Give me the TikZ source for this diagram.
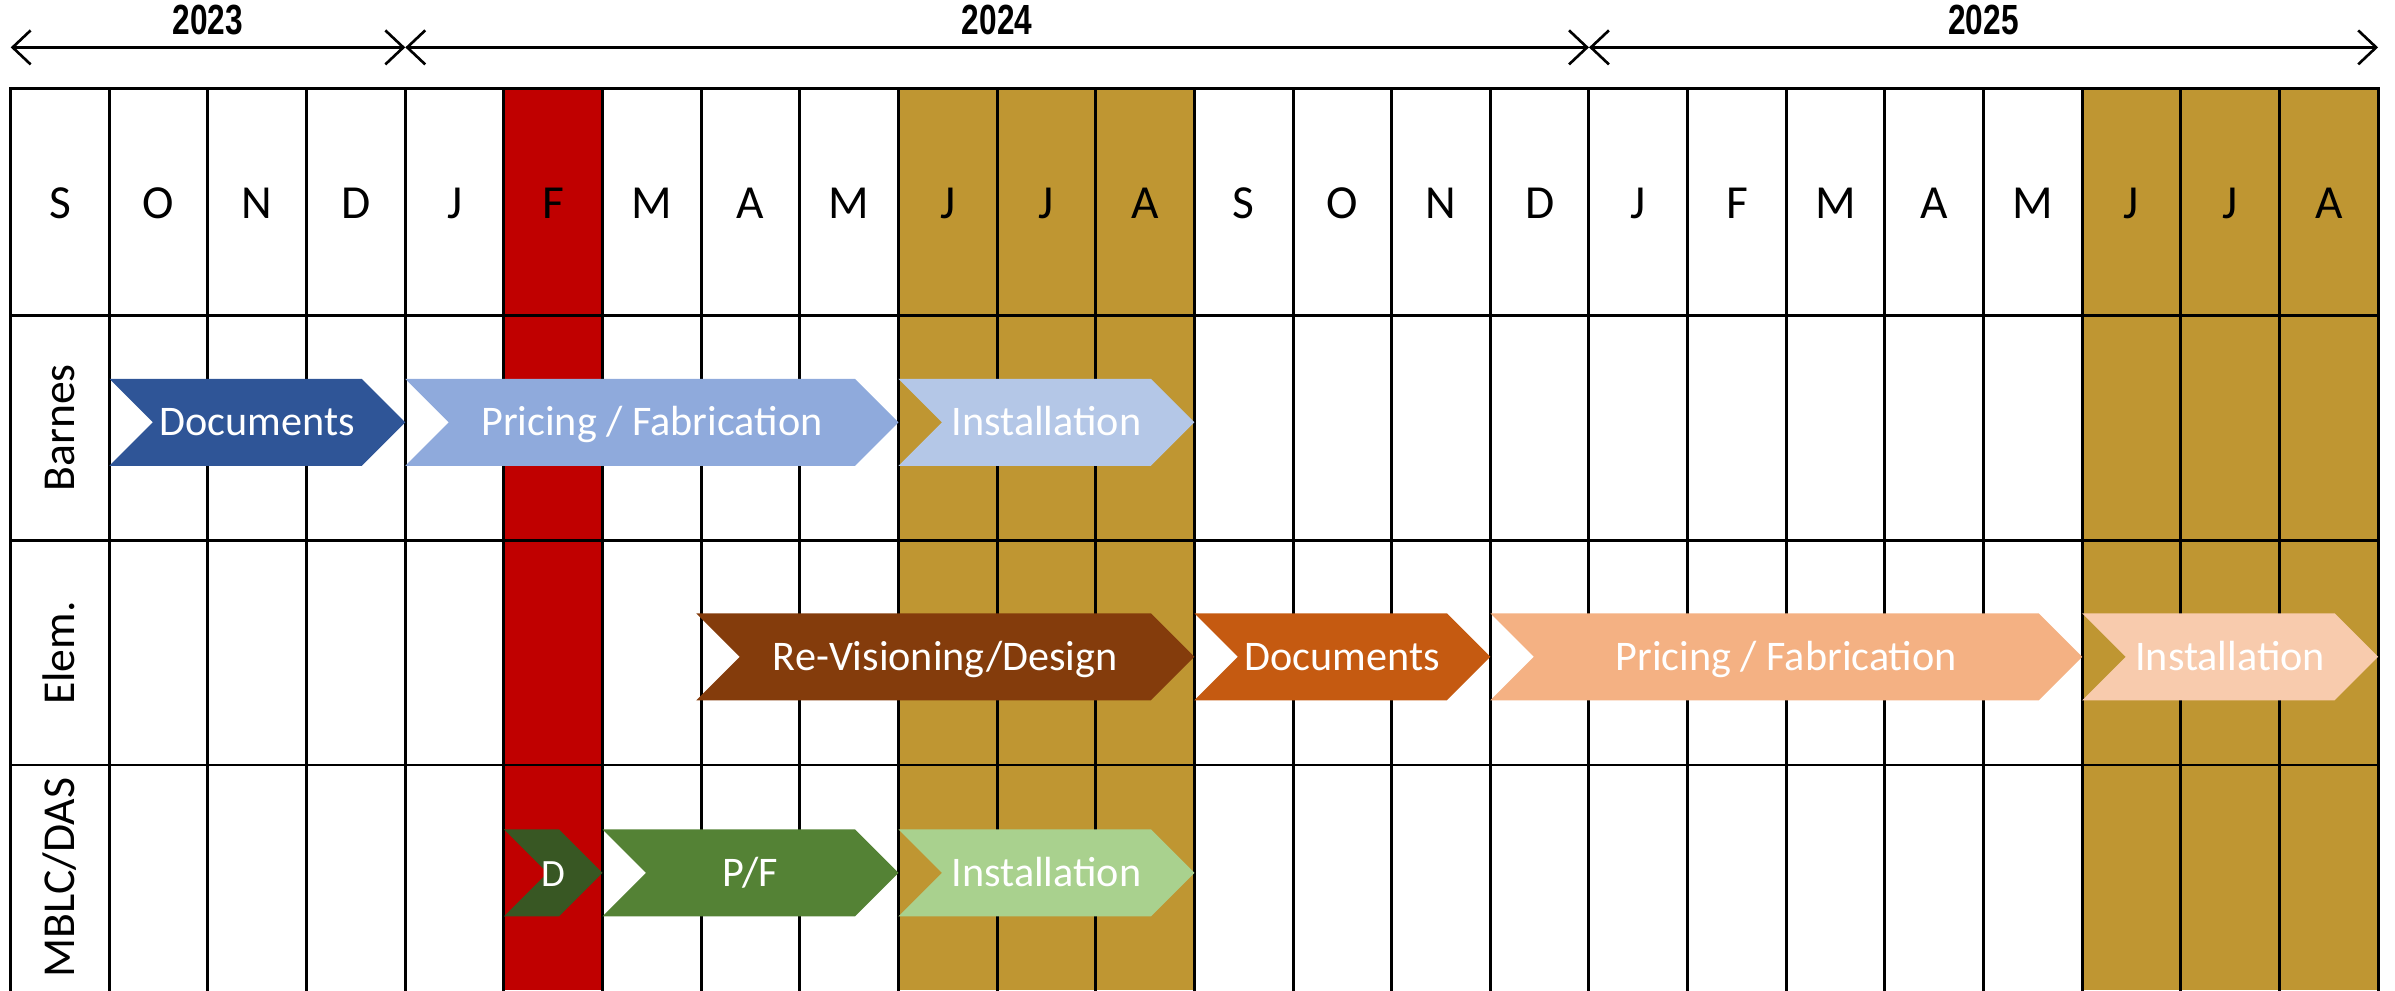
\documentclass[tikz,border=0pt]{standalone}
\usepackage{fontspec}
\setmainfont{Carlito}
\newfontfamily\yearfont[FakeStretch=0.75]{Liberation Sans}
\usetikzlibrary{arrows.meta, positioning}

\definecolor{febred}{RGB}{192,0,0}
\definecolor{summergold}{RGB}{191,150,50}
\definecolor{barnesdoc}{RGB}{47,85,151}
\definecolor{barnespf}{RGB}{143,170,220}
\definecolor{barnesinst}{RGB}{180,199,231}
\definecolor{elemrev}{RGB}{132,60,12}
\definecolor{elemdoc}{RGB}{197,90,17}
\definecolor{elempf}{RGB}{244,177,131}
\definecolor{eleminst}{RGB}{248,203,173}
\definecolor{mblcdoc}{RGB}{56,87,35}
\definecolor{mblcpf}{RGB}{84,130,53}
\definecolor{mblcinst}{RGB}{169,209,142}

\begin{document}
\begin{tikzpicture}[
        x=0.9864cm, y=1cm,
        grid/.style={black, line width=0.85pt, line cap=rect},
        yeararrow/.style={{Straight Barb[length=1.8mm,width=3.4mm]}-{Straight Barb[length=1.8mm,width=3.4mm]}, line width=0.75pt},
        year/.style={font=\yearfont\bfseries\fontsize{12}{14}\selectfont, anchor=base, inner sep=0pt},
        month/.style={font=\fontsize{13.5}{16}\selectfont, anchor=base, inner sep=0pt},
        team/.style={font=\fontsize{13}{15}\selectfont, rotate=90, inner sep=0pt, text height=8.4pt, text depth=0pt},
        phase/.style={text=white, font=\fontsize{12}{14}\selectfont, inner sep=0pt, text height=7.7pt, text depth=0pt}
    ]
    \useasboundingbox (-0.1085,0) rectangle (24.1713,9.9);

    % Shaded months
    \fill[febred] (5,0) rectangle (6,9.014);
    \fill[summergold] (9,0) rectangle (12,9.014);
    \fill[summergold] (21,0) rectangle (24,9.014);

    % Grid
    \foreach \i in {0,...,24}
        \draw[grid] (\i,0) -- (\i,9.014);
    \foreach \y in {9.014,6.745,4.495,2.25}
        \draw[grid] (0,\y) -- (24,\y);

    % Years
    \coordinate (t0) at (0,9.426);
    \coordinate (t4) at (4,9.426);
    \coordinate (t16) at (16,9.426);
    \coordinate (t24) at (24,9.426);
    \draw[yeararrow] (t0) -- (t4);
    \draw[yeararrow] (t4) -- (t16);
    \draw[yeararrow] (t16) -- (t24);
    \node[year] (y2023) at (2,9.55) {2023};
    \node[year] (y2024) at (10,9.55) {2024};
    \node[year] (y2025) at (20,9.55) {2025};

    % Months
    \foreach \m [count=\i from 0] in {S,O,N,D,J,F,M,A,M,J,J,A,S,O,N,D,J,F,M,A,M,J,J,A}
        \node[month] (m\i) at (\i+0.5,7.71) {\m};

    % Teams
    \node[team] (barnes) at (0.5,5.62) {Barnes};
    \node[team] (elem) at (0.5,3.37) {Elem.};
    \node[team] (mblc) at (0.5,1.125) {MBLC/DAS};

    % Phases
    \foreach \xa/\xb/\yc/\col/\txt/\nm in {
            1/4/5.677/barnesdoc/Documents/barnes-doc,
            4/9/5.677/barnespf/{Pricing / Fabrication}/barnes-pf,
            9/12/5.677/barnesinst/Installation/barnes-inst,
            6.95/12/3.332/elemrev/{Re-Visioning/Design}/elem-rev,
            12/15/3.332/elemdoc/Documents/elem-doc,
            15/21/3.332/elempf/{Pricing / Fabrication}/elem-pf,
            21/24/3.332/eleminst/Installation/elem-inst,
            5/6/1.171/mblcdoc/{\fontsize{11}{13}\selectfont D}/mblc-d,
            6/9/1.171/mblcpf/{P/F}/mblc-pf,
            9/12/1.171/mblcinst/Installation/mblc-inst}{
        \fill[\col] (\xa,\yc+0.435) -- (\xb-0.441,\yc+0.435) -- (\xb,\yc)
            -- (\xb-0.441,\yc-0.435) -- (\xa,\yc-0.435) -- (\xa+0.441,\yc) -- cycle;
        \node[phase] (\nm) at ({(\xa+\xb)/2},\yc) {\txt};
    }

\end{tikzpicture}
\end{document}
